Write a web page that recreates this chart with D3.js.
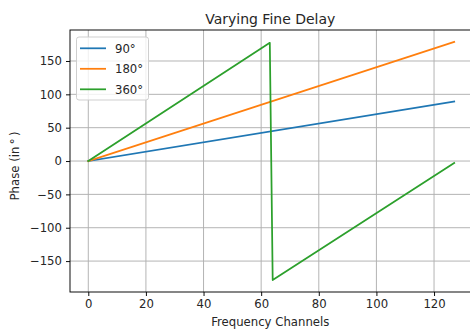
<!DOCTYPE html>
<html>
<head>
<meta charset="utf-8">
<script src="https://cdn.jsdelivr.net/npm/d3@7/dist/d3.min.js"></script>
<style>
  html, body { margin: 0; padding: 0; background: #fff; }
  svg { display: block; font-family: "DejaVu Sans", sans-serif; }
</style>
</head>
<body>
<svg id="chart" width="470" height="336"></svg>
<script>
// Phase across frequency channels for three fine-delay settings
const seriesLabels = ["90\u00b0", "180\u00b0", "360\u00b0"];
const seriesColors = ["#1f77b4", "#ff7f0e", "#2ca02c"];

const channels90 = [0, 127];
const phase90 = [0, 89.3];

const channels180 = [0, 127];
const phase180 = [0, 178.6];

const channels360 = [0, 63, 64, 127];
const phase360 = [0, 177.2, -178.5, -2.8];

const xTickValues = [0, 20, 40, 60, 80, 100, 120];
const yTickValues = [-150, -100, -50, 0, 50, 100, 150];

const series = [
  { label: seriesLabels[0], color: seriesColors[0], x: channels90, y: phase90 },
  { label: seriesLabels[1], color: seriesColors[1], x: channels180, y: phase180 },
  { label: seriesLabels[2], color: seriesColors[2], x: channels360, y: phase360 }
];

const plot = { left: 70, right: 472.5, top: 30, bottom: 292 };
const svg = d3.select("#chart");

// Data extents with 5% padding on each side
function padded(ext) {
  const p = (ext[1] - ext[0]) * 0.05;
  return [ext[0] - p, ext[1] + p];
}
const allX = series.flatMap(s => s.x);
const allY = series.flatMap(s => s.y);

const x = d3.scaleLinear().domain(padded(d3.extent(allX))).range([plot.left, plot.right]);
const y = d3.scaleLinear().domain(padded(d3.extent(allY))).range([plot.bottom, plot.top]);

// Grid
const grid = svg.append("g").attr("stroke", "#b0b0b0").attr("stroke-width", 0.95);
grid.selectAll("line.gx").data(xTickValues).join("line")
  .attr("x1", d => x(d)).attr("x2", d => x(d))
  .attr("y1", plot.top).attr("y2", plot.bottom);
grid.selectAll("line.gy").data(yTickValues).join("line")
  .attr("x1", plot.left).attr("x2", plot.right)
  .attr("y1", d => y(d)).attr("y2", d => y(d));

// Series lines
const line = d3.line().x(d => x(d[0])).y(d => y(d[1]));
svg.append("g").selectAll("path").data(series).join("path")
  .attr("fill", "none")
  .attr("stroke", d => d.color)
  .attr("stroke-width", 1.75)
  .attr("stroke-linejoin", "round")
  .attr("stroke-linecap", "square")
  .attr("d", d => line(d.x.map((v, i) => [v, d.y[i]])));

// Axes
const xAxis = d3.axisBottom(x).tickValues(xTickValues).tickSize(4).tickPadding(4)
  .tickFormat(d3.format("d"));
const yAxis = d3.axisLeft(y).tickValues(yTickValues).tickSize(4).tickPadding(4)
  .tickFormat(d => d < 0 ? "\u2212" + Math.abs(d) : String(d));

const gx = svg.append("g").attr("transform", `translate(0,${plot.bottom})`).call(xAxis);
const gy = svg.append("g").attr("transform", `translate(${plot.left},0)`).call(yAxis);
[gx, gy].forEach(g => {
  g.select(".domain").remove();
  g.selectAll(".tick line").attr("stroke", "#000").attr("stroke-width", 0.95);
  g.selectAll(".tick text").attr("fill", "#262626")
    .style("font-family", "DejaVu Sans").style("font-size", "11.7px");
});

// Spines
const spines = svg.append("g").attr("stroke", "#000").attr("stroke-width", 0.95).attr("fill", "none");
spines.append("rect")
  .attr("x", plot.left).attr("y", plot.top)
  .attr("width", plot.right - plot.left).attr("height", plot.bottom - plot.top);

// Title and axis labels
svg.append("text")
  .attr("x", (plot.left + plot.right) / 2 - 1).attr("y", 23.5)
  .attr("text-anchor", "middle").attr("fill", "#262626")
  .style("font-size", "14px")
  .text("Varying Fine Delay");

svg.append("text")
  .attr("x", (plot.left + plot.right) / 2 - 1).attr("y", 325.5)
  .attr("text-anchor", "middle").attr("fill", "#262626")
  .style("font-size", "11.7px")
  .text("Frequency Channels");

svg.append("text")
  .attr("transform", `translate(19,166) rotate(-90)`)
  .attr("text-anchor", "middle").attr("fill", "#262626")
  .style("font-size", "11.7px")
  .text("Phase (in\u2009\u00b0\u2009)");

// Legend
const legend = svg.append("g").attr("transform", "translate(76.5,37)");
legend.append("rect")
  .attr("width", 72).attr("height", 63).attr("rx", 2.5)
  .attr("fill", "#fff").attr("fill-opacity", 0.8)
  .attr("stroke", "#cccccc").attr("stroke-width", 0.95);
const rows = legend.selectAll("g.row").data(series).join("g")
  .attr("transform", (d, i) => `translate(0,${11.3 + i * 20.5})`);
rows.append("line")
  .attr("x1", 3.5).attr("x2", 29.5).attr("y1", 0).attr("y2", 0)
  .attr("stroke", d => d.color).attr("stroke-width", 1.75);
rows.append("text")
  .attr("x", 38.5).attr("y", 4.2)
  .attr("fill", "#262626")
  .style("font-size", "11.7px")
  .text(d => d.label);
</script>
</body>
</html>
